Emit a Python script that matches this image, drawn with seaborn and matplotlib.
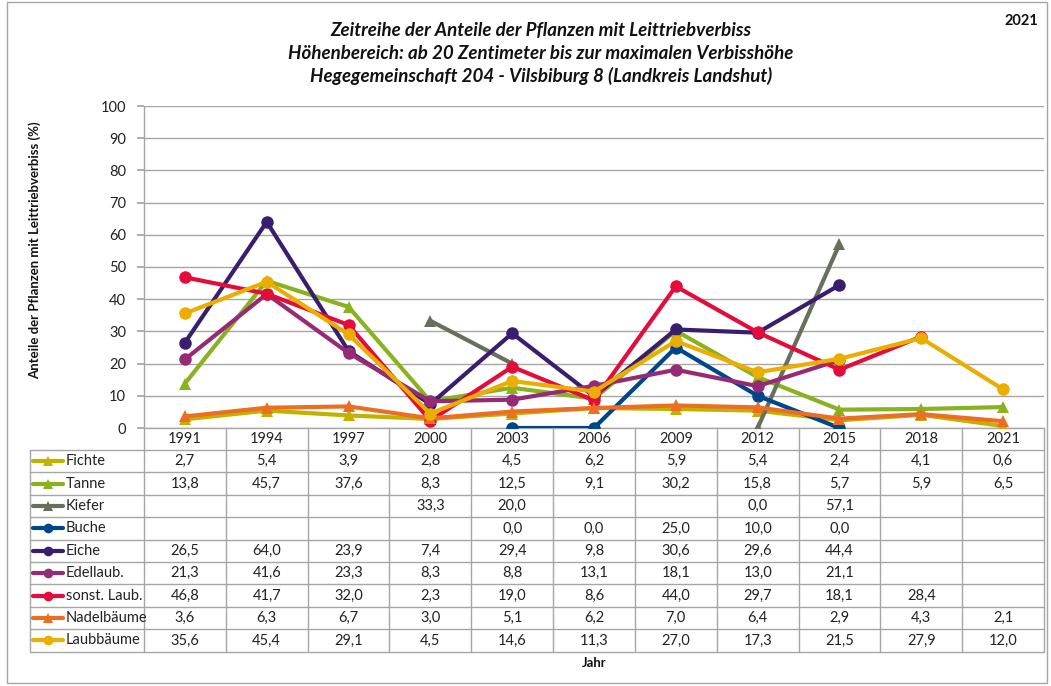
import numpy as np
import pandas as pd
import matplotlib
matplotlib.use("Agg")
import matplotlib.pyplot as plt
from matplotlib.lines import Line2D
from matplotlib.patches import Rectangle
import seaborn as sns

years = ["1991", "1994", "1997", "2000", "2003", "2006", "2009", "2012", "2015", "2018", "2021"]
names = ["Fichte", "Tanne", "Kiefer", "Buche", "Eiche", "Edellaub.", "sonst. Laub.", "Nadelbäume", "Laubbäume"]

fichte = [2.7, 5.4, 3.9, 2.8, 4.5, 6.2, 5.9, 5.4, 2.4, 4.1, 0.6]
tanne = [13.8, 45.7, 37.6, 8.3, 12.5, 9.1, 30.2, 15.8, 5.7, 5.9, 6.5]
kiefer = [None, None, None, 33.3, 20.0, None, None, 0.0, 57.1, None, None]
buche = [None, None, None, None, 0.0, 0.0, 25.0, 10.0, 0.0, None, None]
eiche = [26.5, 64.0, 23.9, 7.4, 29.4, 9.8, 30.6, 29.6, 44.4, None, None]
edellaub = [21.3, 41.6, 23.3, 8.3, 8.8, 13.1, 18.1, 13.0, 21.1, None, None]
sonst_laub = [46.8, 41.7, 32.0, 2.3, 19.0, 8.6, 44.0, 29.7, 18.1, 28.4, None]
nadelbaeume = [3.6, 6.3, 6.7, 3.0, 5.1, 6.2, 7.0, 6.4, 2.9, 4.3, 2.1]
laubbaeume = [35.6, 45.4, 29.1, 4.5, 14.6, 11.3, 27.0, 17.3, 21.5, 27.9, 12.0]

series = [fichte, tanne, kiefer, buche, eiche, edellaub, sonst_laub, nadelbaeume, laubbaeume]
colors = ["#C2B200", "#8AB21E", "#66705C", "#00468C", "#3A1E6E", "#962A74", "#E30C3A", "#EB6E22", "#EBAD00"]
markers = ["^", "^", "^", "o", "o", "o", "o", "^", "o"]

W, H = 1051, 686
sns.set_theme(style="white")
plt.rcParams["font.family"] = ["Lato", "DejaVu Sans"]

fig = plt.figure(figsize=(W / 100, H / 100), dpi=100)

def fx(px):
    return px / W

def fy(py):
    return 1 - py / H

# plot area in pixels
left, right, top, bottom = 144, 1044, 106, 428
ax = fig.add_axes([fx(left), fy(bottom), fx(right) - fx(left), fy(top) - fy(bottom)])

for i, (name, vals) in enumerate(zip(names, series)):
    df = pd.DataFrame({"x": np.arange(len(years)) + 0.5, "y": vals})
    df["y"] = pd.to_numeric(df["y"])
    # split into contiguous pieces so gaps stay gaps
    df["seg"] = df["y"].isna().cumsum()
    df = df.dropna()
    for _, part in df.groupby("seg"):
        sns.lineplot(data=part, x="x", y="y", ax=ax, color=colors[i], marker=markers[i],
                     markersize=9, markeredgewidth=0, linewidth=3, zorder=3 + i,
                     legend=False, sort=False, estimator=None)

ax.set_xlim(0, len(years))
ax.set_ylim(0, 100)
ax.set_yticks(range(0, 101, 10))
ax.set_xticks([])
ax.set_xlabel("")
ax.set_ylabel("")
ax.yaxis.grid(True, color="#A6A6A6", linewidth=1)
ax.set_axisbelow(True)
ax.tick_params(axis="y", left=True, length=5, color="#A6A6A6", labelsize=10.5, pad=8, labelcolor="#222222")
for s in ["top", "right"]:
    ax.spines[s].set_visible(False)
for s in ["left", "bottom"]:
    ax.spines[s].set_color("#A6A6A6")
    ax.spines[s].set_linewidth(1)

# data table under the plot
gc = "#A6A6A6"
colw = (right - left) / len(years)
row_top = 450
row_h = 22.4
tab_left = 30
tab_bottom = row_top + row_h * len(names)

def hline(x0, x1, y):
    fig.add_artist(Line2D([fx(x0), fx(x1)], [fy(y), fy(y)], color=gc, lw=1))

def vline(x, y0, y1):
    fig.add_artist(Line2D([fx(x), fx(x)], [fy(y0), fy(y1)], color=gc, lw=1))

for j in range(len(years) + 1):
    vline(left + j * colw, bottom, tab_bottom)
vline(tab_left, row_top, tab_bottom)
for r in range(len(names) + 1):
    hline(tab_left, right, row_top + r * row_h)

for j, yr in enumerate(years):
    fig.text(fx(left + (j + 0.5) * colw), fy((bottom + row_top) / 2), yr,
             ha="center", va="center", fontsize=10.5, color="#222222")

for r, (name, vals) in enumerate(zip(names, series)):
    yc = row_top + (r + 0.5) * row_h
    fig.add_artist(Line2D([fx(33), fx(63)], [fy(yc), fy(yc)], color=colors[r], lw=3,
                          solid_capstyle="round"))
    fig.add_artist(Line2D([fx(48)], [fy(yc)], color=colors[r], marker=markers[r],
                          markersize=7, markeredgewidth=0, linestyle="none"))
    fig.text(fx(66), fy(yc), name, ha="left", va="center", fontsize=10.5, color="#222222")
    for j, v in enumerate(vals):
        if v is None:
            continue
        fig.text(fx(left + (j + 0.5) * colw), fy(yc), f"{v:.1f}".replace(".", ","),
                 ha="center", va="center", fontsize=10.5, color="#222222")

# titles and labels
title_lines = ["Zeitreihe der Anteile der Pflanzen mit Leittriebverbiss",
               "Höhenbereich: ab 20 Zentimeter bis zur maximalen Verbisshöhe",
               "Hegegemeinschaft 204 - Vilsbiburg 8 (Landkreis Landshut)"]
for k, t in enumerate(title_lines):
    fig.text(fx(541), fy(31 + k * 22.5), t, ha="center", va="center", fontsize=13.5,
             fontweight="bold", fontstyle="italic", color="#111111")
fig.text(fx(1021), fy(21), "2021", ha="center", va="center", fontsize=10.5,
         fontweight="bold", color="#111111")
fig.text(fx(35), fy(250), "Anteile der Pflanzen mit Leittriebverbiss (%)", rotation=90,
         ha="center", va="center", fontsize=9.5, fontweight="bold", color="#111111")
fig.text(fx(594), fy(663), "Jahr", ha="center", va="center", fontsize=9.5,
         fontweight="bold", color="#111111")

# outer frame
fig.add_artist(Rectangle((fx(7), fy(683)), fx(1047) - fx(7), fy(2) - fy(683),
                         fill=False, edgecolor="#A6A6A6", lw=1))

fig.savefig("out.png", dpi=100)
